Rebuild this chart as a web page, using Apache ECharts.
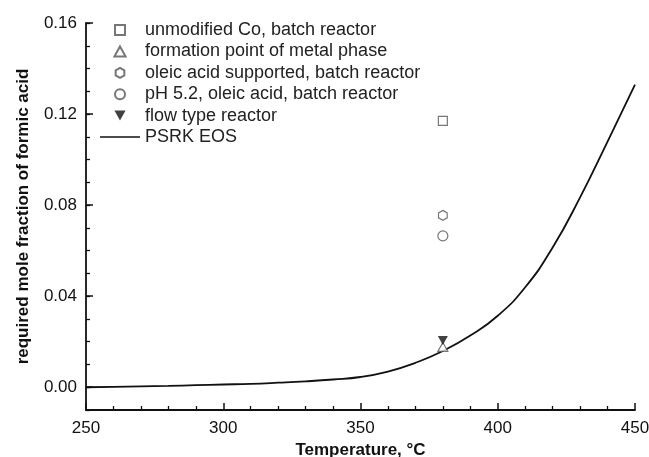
<!DOCTYPE html>
<html>
<head>
<meta charset="utf-8">
<script src="https://cdn.jsdelivr.net/npm/echarts@6/dist/echarts.min.js"></script>
<style>
html,body{margin:0;padding:0;background:#fff}
#chart{width:649px;height:457px}
</style>
</head>
<body>
<div id="chart"></div>
<script>
// PSRK EOS curve (temperature °C, mole fraction)
const psrkTemps = [250, 260, 270, 280, 290, 300, 310, 320, 330, 340, 350, 360, 370, 380, 390, 400, 410, 420, 430, 440, 450]
const psrkValues = [0.0000, 0.0002, 0.0004, 0.0006, 0.0009, 0.0012, 0.0015, 0.0020, 0.0026, 0.0034, 0.0045, 0.0069, 0.0107, 0.0159, 0.0227, 0.0314, 0.0439, 0.0614, 0.0834, 0.1079, 0.1329]

// experimental points, all at 380 °C
const pointTemp = 380
const unmodifiedCo = [0.117]
const formationPoint = [0.0177]
const oleicSupported = [0.0755]
const ph52Oleic = [0.0665]
const flowType = [0.0205]

const seriesNames = [
    'unmodified Co, batch reactor',
    'formation point of metal phase',
    'oleic acid supported, batch reactor',
    'pH 5.2, oleic acid, batch reactor',
    'flow type reactor',
    'PSRK EOS'
]

const yMajor = [0, 0.04, 0.08, 0.12, 0.16]

const square = 'path://M-1,-1 L1,-1 L1,1 L-1,1 Z'
const upTriangle = 'path://M0,-0.9 L1,0.9 L-1,0.9 Z'
const hexagon = 'path://M0,-1 L0.866,-0.5 L0.866,0.5 L0,1 L-0.866,0.5 L-0.866,-0.5 Z'
const downTriangle = 'path://M-1,-0.9 L1,-0.9 L0,0.9 Z'
const lineIcon = 'path://M0,0 L40,0 L40,1.6 L0,1.6 Z'

function pts(vals){
    return vals.map(v => [pointTemp, v])
}

function openScatter(name, data, symbol, size){
    return {
        name: name,
        type: 'scatter',
        data: pts(data),
        symbol: symbol,
        symbolSize: size,
        symbolKeepAspect: true,
        itemStyle: {color: '#fff', borderColor: '#555', borderWidth: 1.2},
        z: 3
    }
}

const fontFam = '"Liberation Sans", Arial, sans-serif'

let legendData = seriesNames.map(n => ({name: n}))
legendData[5].icon = lineIcon

let option = {
    animation: false,
    backgroundColor: '#fff',
    grid: {left: 86, right: 14, top: 23, bottom: 47, outerBoundsMode: 'none', containLabel: false},
    legend: {
        orient: 'vertical',
        left: 100,
        top: 21,
        padding: 0,
        itemWidth: 40,
        itemHeight: 10,
        itemGap: 3.4,
        symbolKeepAspect: true,
        data: legendData,
        textStyle: {fontFamily: fontFam, fontSize: 18, color: '#222', lineHeight: 18}
    },
    xAxis: {
        type: 'value',
        min: 250,
        max: 450,
        interval: 50,
        name: 'Temperature, °C',
        nameLocation: 'middle',
        nameGap: 30,
        nameTextStyle: {fontFamily: fontFam, fontSize: 17, fontWeight: 'bold', color: '#111'},
        axisLine: {show: true, onZero: false, lineStyle: {color: '#111', width: 1.8}},
        axisTick: {show: true, inside: true, length: 7, lineStyle: {color: '#111', width: 1.5}},
        minorTick: {show: true, splitNumber: 5, length: 4, lineStyle: {color: '#111', width: 1.3}},
        axisLabel: {fontFamily: fontFam, fontSize: 17, color: '#111', margin: 10},
        splitLine: {show: false}
    },
    yAxis: [
        {
            type: 'value',
            min: -0.01,
            max: 0.16,
            interval: 0.01,
            name: 'required mole fraction of formic acid',
            nameLocation: 'middle',
            nameGap: 54,
            nameTextStyle: {fontFamily: fontFam, fontSize: 17, fontWeight: 'bold', color: '#111'},
            axisLine: {show: true, onZero: false, lineStyle: {color: '#111', width: 1.8}},
            axisTick: {show: true, inside: true, length: 4, lineStyle: {color: '#111', width: 1.3}},
            axisLabel: {
                customValues: yMajor,
                formatter: v => v.toFixed(2),
                fontFamily: fontFam, fontSize: 17, color: '#111', margin: 9
            },
            splitLine: {show: false}
        },
        {
            // major ticks only
            type: 'value',
            position: 'left',
            min: -0.01,
            max: 0.16,
            interval: 0.01,
            axisLine: {show: false, onZero: false},
            axisTick: {show: true, inside: true, length: 7, customValues: yMajor, lineStyle: {color: '#111', width: 1.5}},
            axisLabel: {show: false},
            splitLine: {show: false}
        }
    ],
    series: [
        openScatter(seriesNames[0], unmodifiedCo, square, 9),
        openScatter(seriesNames[1], formationPoint, upTriangle, 10),
        openScatter(seriesNames[2], oleicSupported, hexagon, 10),
        openScatter(seriesNames[3], ph52Oleic, 'circle', 10),
        {
            name: seriesNames[4],
            type: 'scatter',
            data: pts(flowType),
            symbol: downTriangle,
            symbolSize: 10,
            symbolKeepAspect: true,
            itemStyle: {color: '#111'},
            z: 4
        },
        {
            name: seriesNames[5],
            type: 'line',
            data: psrkTemps.map((t, i) => [t, psrkValues[i]]),
            smooth: 0.5,
            symbol: 'none',
            lineStyle: {color: '#111', width: 1.8},
            itemStyle: {color: '#111'},
            z: 2
        }
    ]
}

let chartDom = echarts.init(document.querySelector('#chart'))
chartDom.setOption(option)
</script>
</body>
</html>
